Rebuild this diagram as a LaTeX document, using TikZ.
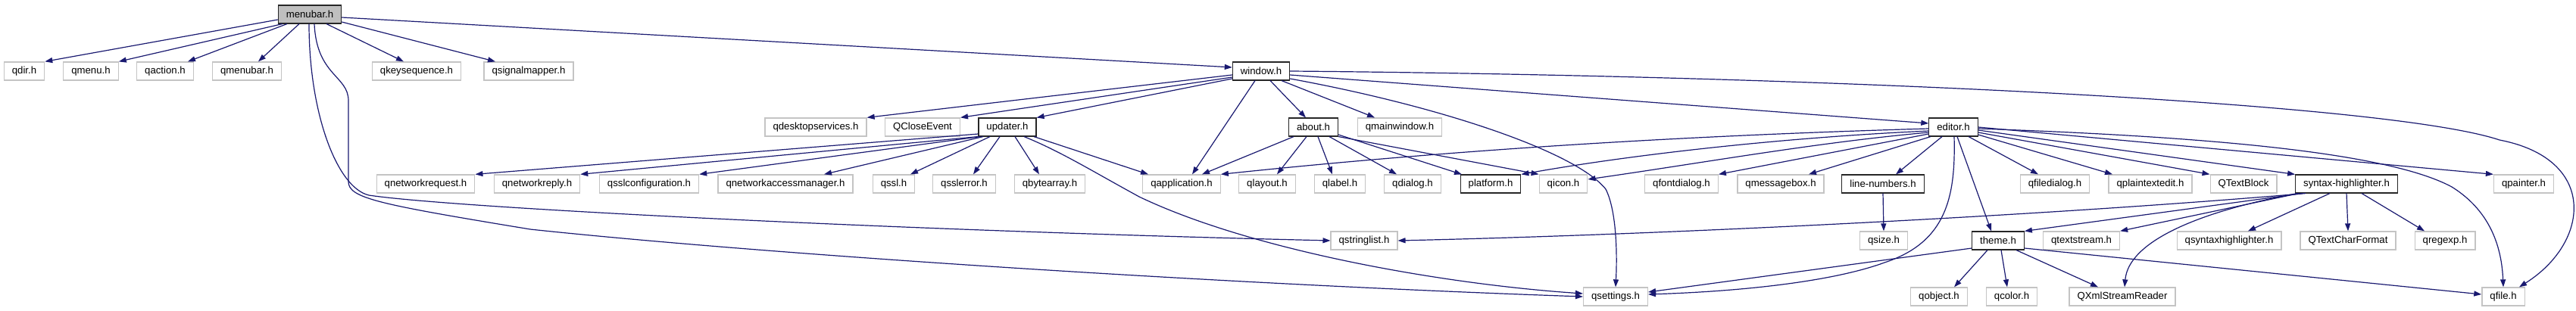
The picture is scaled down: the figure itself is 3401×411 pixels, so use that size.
\documentclass[tikz,border=0pt]{standalone}
\usepackage{fontspec}
\setmainfont{Liberation Sans}
\usetikzlibrary{arrows.meta}
\definecolor{edgeblue}{HTML}{191970}
\definecolor{extgray}{HTML}{C4C4C4}
\definecolor{rootgray}{HTML}{BFBFBF}

\begin{document}
\begin{tikzpicture}[x=1pt, y=-1pt, font=\fontsize{13.2}{15}\selectfont,
    >={Triangle[length=10pt,width=7pt]},
    box/.style={rectangle, fill=white, minimum height=24pt, inner xsep=10.5pt, inner ysep=0pt, line width=1.3pt},
    ext/.style={box, draw=extgray},
    int/.style={box, draw=black!85, line width=1.1pt},
    root/.style={box, draw=black!85, line width=1.1pt, fill=rootgray},
    dep/.style={->, draw=edgeblue, line width=1.2pt}]

    \useasboundingbox (0,0) rectangle (3401,411);

    % File principale
    \node[root] (menubar) at (409,19) {menubar.h};

    % Primo livello
    \node[ext] (qdir) at (32,94) {qdir.h};
    \node[ext] (qmenu) at (120,94) {qmenu.h};
    \node[ext] (qaction) at (218,94) {qaction.h};
    \node[ext] (qmenubar) at (326,94) {qmenubar.h};
    \node[ext] (qkeyseq) at (550,94) {qkeysequence.h};
    \node[ext] (qsigmap) at (698,94) {qsignalmapper.h};
    \node[int] (window) at (1665,94) {window.h};

    % Secondo livello
    \node[ext] (qdesktop) at (1077,168) {qdesktopservices.h};
    \node[ext] (qclose) at (1218,168) {QCloseEvent};
    \node[int] (updater) at (1330,168) {updater.h};
    \node[int] (about) at (1734,168) {about.h};
    \node[ext] (qmainwin) at (1848,168) {qmainwindow.h};
    \node[int] (editor) at (2579,168) {editor.h};

    % Terzo livello
    \node[ext] (qnetreq) at (562,243) {qnetworkrequest.h};
    \node[ext] (qnetreply) at (709,243) {qnetworkreply.h};
    \node[ext] (qsslconf) at (857,243) {qsslconfiguration.h};
    \node[ext] (qnetmgr) at (1037,243) {qnetworkaccessmanager.h};
    \node[ext] (qssl) at (1180,243) {qssl.h};
    \node[ext] (qsslerr) at (1273,243) {qsslerror.h};
    \node[ext] (qbytes) at (1386,243) {qbytearray.h};
    \node[ext] (qapp) at (1560,243) {qapplication.h};
    \node[ext] (qlayout) at (1673,243) {qlayout.h};
    \node[ext] (qlabel) at (1769,243) {qlabel.h};
    \node[ext] (qdialog) at (1865,243) {qdialog.h};
    \node[int] (platform) at (1968,243) {platform.h};
    \node[ext] (qicon) at (2064,243) {qicon.h};
    \node[ext] (qfontdlg) at (2220,243) {qfontdialog.h};
    \node[ext] (qmsgbox) at (2351,243) {qmessagebox.h};
    \node[int] (linenum) at (2486,243) {line-numbers.h};
    \node[ext] (qfiledlg) at (2713,243) {qfiledialog.h};
    \node[ext] (qplain) at (2839,243) {qplaintextedit.h};
    \node[ext] (qtextblock) at (2962,243) {QTextBlock};
    \node[int] (synhl) at (3098,243) {syntax-highlighter.h};
    \node[ext] (qpainter) at (3332,243) {qpainter.h};

    % Quarto livello
    \node[ext] (qstrlist) at (1801,318) {qstringlist.h};
    \node[ext] (qsize) at (2487,318) {qsize.h};
    \node[int] (theme) at (2638,318) {theme.h};
    \node[ext] (qtextstream) at (2748,318) {qtextstream.h};
    \node[ext] (qsynhl) at (2943,318) {qsyntaxhighlighter.h};
    \node[ext] (qcharfmt) at (3100,318) {QTextCharFormat};
    \node[ext] (qregexp) at (3228,318) {qregexp.h};

    % Ultimo livello
    \node[ext] (qsettings) at (2133,392) {qsettings.h};
    \node[ext] (qobject) at (2560,392) {qobject.h};
    \node[ext] (qcolor) at (2656,392) {qcolor.h};
    \node[ext] (qxml) at (2802,392) {QXmlStreamReader};
    \node[ext] (qfile) at (3305,392) {qfile.h};

    % Dipendenze di menubar.h
    \draw[dep] ([yshift=-7pt]menubar.west) -- (qdir.north east);
    \draw[dep] ([xshift=-36pt]menubar.south) -- (qmenu.north east);
    \draw[dep] ([xshift=-30pt]menubar.south) -- ([xshift=30pt]qaction.north);
    \draw[dep] ([xshift=-14pt]menubar.south) -- ([xshift=15pt]qmenubar.north);
    \draw[dep] ([xshift=22pt]menubar.south) -- ([xshift=-17pt]qkeyseq.north);
    \draw[dep] ([yshift=-10pt]menubar.east) -- ([xshift=-44pt]qsigmap.north);
    \draw[dep] ([yshift=-4pt]menubar.east) -- ([yshift=5pt]window.west);
    \draw[dep] ([xshift=-1pt]menubar.south) .. controls (408,150) and (445,248) .. (487,258)
        .. controls (600,275) and (1200,305) .. (qstrlist.west);
    \draw[dep] ([xshift=6pt]menubar.south) .. controls (418,100) and (460,100) .. (460,133) -- (460,240)
        .. controls (460,262) and (500,270) .. (700,303)
        .. controls (1000,335) and (1600,375) .. (qsettings.west);

    % Dipendenze di window.h
    \draw[dep] ([yshift=-5pt]window.west) -- (qdesktop.north east);
    \draw[dep] ([yshift=-8pt]window.west) -- (qclose.north east);
    \draw[dep] ([yshift=-10pt]window.west) -- (updater.north east);
    \draw[dep] ([xshift=-8pt]window.south) -- ([xshift=14pt]qapp.north);
    \draw[dep] ([xshift=12pt]window.south) -- ([xshift=-10pt]about.north);
    \draw[dep] ([xshift=27pt]window.south) -- ([xshift=-33pt]qmainwin.north);
    \draw[dep] ([yshift=-5pt]window.east) -- ([yshift=5pt]editor.west);
    \draw[dep] ([yshift=-10pt]window.east) .. controls (1900,140) and (2080,200) .. (2120,250)
        .. controls (2135,280) and (2135,340) .. (qsettings.north);
    \draw[dep] (window.east) .. controls (2400,100) and (3150,135) .. (3300,185)
        .. controls (3430,210) and (3420,320) .. ([xshift=21pt]qfile.north);

    % Dipendenze di updater.h
    \draw[dep] ([yshift=-9pt]updater.west) -- (qnetreq.north east);
    \draw[dep] (updater.south west) -- (qnetreply.north east);
    \draw[dep] ([xshift=-36pt]updater.south) -- (qsslconf.north east);
    \draw[dep] ([xshift=-32pt]updater.south) -- ([xshift=51pt]qnetmgr.north);
    \draw[dep] ([xshift=-23pt]updater.south) -- ([xshift=22pt]qssl.north);
    \draw[dep] ([xshift=-10pt]updater.south) -- ([xshift=12pt]qsslerr.north);
    \draw[dep] ([xshift=10pt]updater.south) -- ([xshift=-14pt]qbytes.north);
    \draw[dep] ([xshift=35pt]updater.south) -- ([xshift=-44pt]qapp.north);
    \draw[dep] ([xshift=22pt]updater.south) .. controls (1400,200) and (1440,225) .. (1504,260)
        .. controls (1650,330) and (1900,375) .. ([yshift=4pt]qsettings.west);

    % Dipendenze di about.h
    \draw[dep] ([xshift=-26pt]about.south) -- ([xshift=27pt]qapp.north);
    \draw[dep] ([xshift=-9pt]about.south) -- ([xshift=13pt]qlayout.north);
    \draw[dep] ([xshift=6pt]about.south) -- ([xshift=-10pt]qlabel.north);
    \draw[dep] ([xshift=21pt]about.south) -- ([xshift=-21pt]qdialog.north);
    \draw[dep] ([yshift=-10pt]about.east) -- ([xshift=-38pt]platform.north);
    \draw[dep] (about.south east) -- (qicon.north west);

    % Dipendenze di editor.h
    \draw[dep] ([yshift=-2pt]editor.west) .. controls (2200,180) and (1900,200) .. (qapp.north east);
    \draw[dep] ([yshift=-5pt]editor.west) .. controls (2350,182) and (2150,205) .. (platform.north east);
    \draw[dep] ([yshift=-7pt]editor.west) .. controls (2400,188) and (2250,215) .. ([yshift=6pt]qicon.east);
    \draw[dep] ([yshift=-9pt]editor.west) -- (qfontdlg.north east);
    \draw[dep] ([xshift=-30pt]editor.south) -- ([xshift=37pt]qmsgbox.north);
    \draw[dep] ([xshift=-15pt]editor.south) -- ([xshift=17pt]linenum.north);
    \draw[dep] ([xshift=1pt]editor.south) .. controls (2582,260) and (2570,320) .. (2488,347)
        .. controls (2420,372) and (2300,385) .. ([yshift=3pt]qsettings.east);
    \draw[dep] ([xshift=5pt]editor.south) -- ([xshift=-9pt]theme.north);
    \draw[dep] ([xshift=20pt]editor.south) -- ([xshift=-22pt]qfiledlg.north);
    \draw[dep] ([yshift=-10pt]editor.east) -- ([xshift=-50pt]qplain.north);
    \draw[dep] ([yshift=-7pt]editor.east) -- (qtextblock.north west);
    \draw[dep] ([yshift=-4pt]editor.east) -- (synhl.north west);
    \draw[dep] (editor.east) -- (qpainter.north west);
    \draw[dep] ([yshift=-2pt]editor.east) .. controls (2900,180) and (3150,200) .. (3237,247)
        .. controls (3290,280) and (3303,330) .. (qfile.north);

    % Dipendenze di syntax-highlighter.h
    \draw[dep] ([xshift=-54pt]synhl.south) .. controls (2700,285) and (2200,310) .. (qstrlist.east);
    \draw[dep] ([xshift=-58pt]synhl.south) -- (theme.north east);
    \draw[dep] ([xshift=-63pt]synhl.south) -- (qtextstream.north east);
    \draw[dep] ([xshift=-65pt]synhl.south) .. controls (2900,280) and (2810,320) .. ([xshift=3pt]qxml.north);
    \draw[dep] ([xshift=-22pt]synhl.south) -- ([xshift=25pt]qsynhl.north);
    \draw[dep] (synhl.south) -- (qcharfmt.north);
    \draw[dep] ([xshift=20pt]synhl.south) -- ([xshift=-27pt]qregexp.north);

    % Dipendenze di theme.h e line-numbers.h
    \draw[dep] ([yshift=-10pt]theme.west) -- ([yshift=6pt]qsettings.east);
    \draw[dep] ([xshift=-14pt]theme.south) -- ([xshift=20pt]qobject.north);
    \draw[dep] ([xshift=4pt]theme.south) -- ([xshift=-6pt]qcolor.north);
    \draw[dep] ([xshift=24pt]theme.south) -- ([xshift=-32pt]qxml.north);
    \draw[dep] ([yshift=-10pt]theme.east) -- ([yshift=3pt]qfile.west);
    \draw[dep] (linenum.south) -- (qsize.north);

\end{tikzpicture}
\end{document}
